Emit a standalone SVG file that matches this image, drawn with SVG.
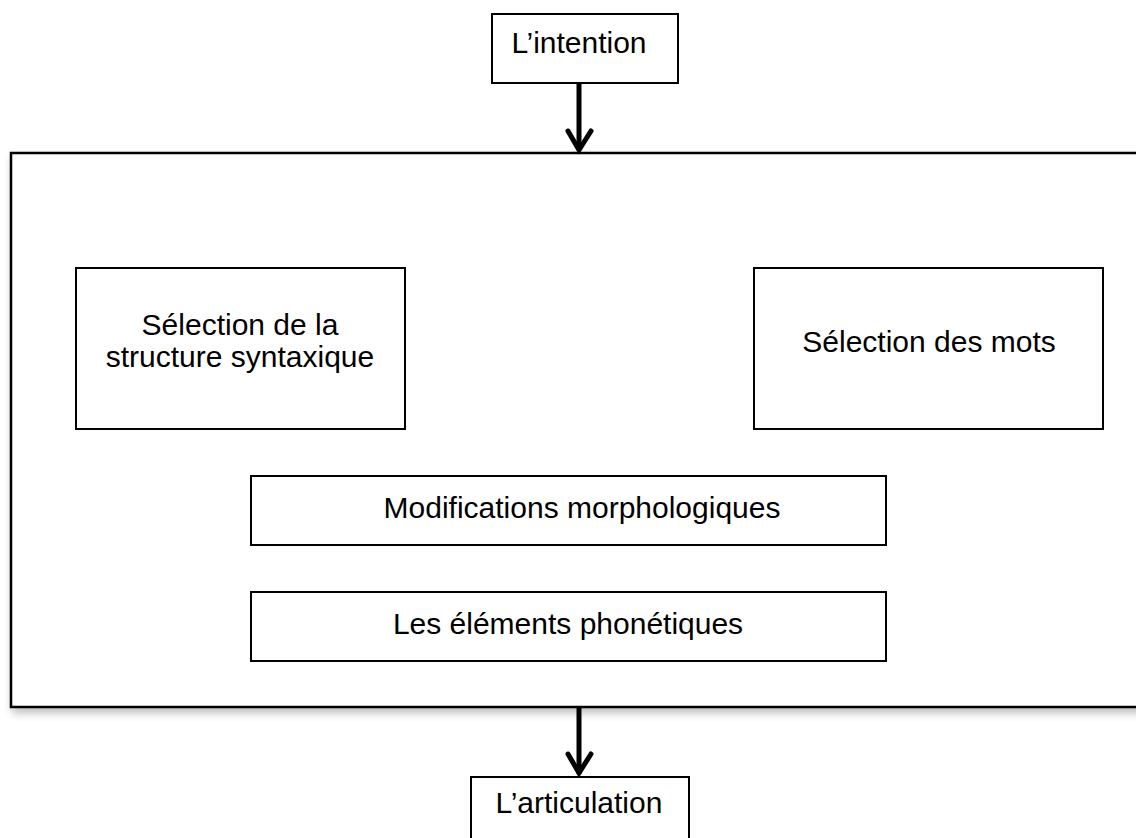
<svg xmlns="http://www.w3.org/2000/svg" width="1136" height="838" viewBox="0 0 1136 838">
<defs>
<filter id="sh" x="-5%" y="-5%" width="115%" height="120%">
<feGaussianBlur in="SourceAlpha" stdDeviation="4"/>
<feOffset dx="2" dy="5" result="b"/>
<feComponentTransfer><feFuncA type="linear" slope="0.25"/></feComponentTransfer>
<feMerge><feMergeNode/><feMergeNode in="SourceGraphic"/></feMerge>
</filter>
<style>
.box{fill:#fff;stroke:#000;stroke-width:2}
.big{fill:#fff;stroke:#000;stroke-width:2.5}
.t{font-family:"Liberation Sans",Arial,sans-serif;font-size:30px;fill:#000;text-anchor:middle}
.ar{fill:none;stroke:#000;stroke-width:5;stroke-linecap:butt}
.hd{fill:none;stroke:#000;stroke-width:5;stroke-linecap:round;stroke-linejoin:miter}
</style>
</defs>
<rect width="1136" height="838" fill="#fff"/>
<g id="container">
<rect class="big" x="11" y="153" width="1140" height="554" filter="url(#sh)"/>
</g>
<g id="intention">
<rect class="box" x="492" y="14" width="186" height="69"/>
<text class="t" x="579" y="53">L’intention</text>
</g>
<g id="syntaxe">
<rect class="box" x="76" y="268" width="329" height="161"/>
<text class="t" x="240" y="335">Sélection de la</text>
<text class="t" x="240" y="367">structure syntaxique</text>
</g>
<g id="mots">
<rect class="box" x="754" y="268" width="349" height="161"/>
<text class="t" x="929" y="352">Sélection des mots</text>
</g>
<g id="morpho">
<rect class="box" x="251" y="476" width="635" height="69"/>
<text class="t" x="582" y="518">Modifications morphologiques</text>
</g>
<g id="phon">
<rect class="box" x="251" y="592" width="635" height="69"/>
<text class="t" x="568" y="634">Les éléments phonétiques</text>
</g>
<g id="articulation">
<rect class="box" x="471" y="777" width="218" height="70"/>
<text class="t" x="579" y="813">L’articulation</text>
</g>
<g id="connectors">
<line class="ar" x1="579" y1="83" x2="579" y2="150"/>
<polyline class="hd" points="568,131 579,150 591,131"/>
<line class="ar" x1="579" y1="708" x2="579" y2="774"/>
<polyline class="hd" points="568,754 579,773 591,754"/>
</g>
</svg>
